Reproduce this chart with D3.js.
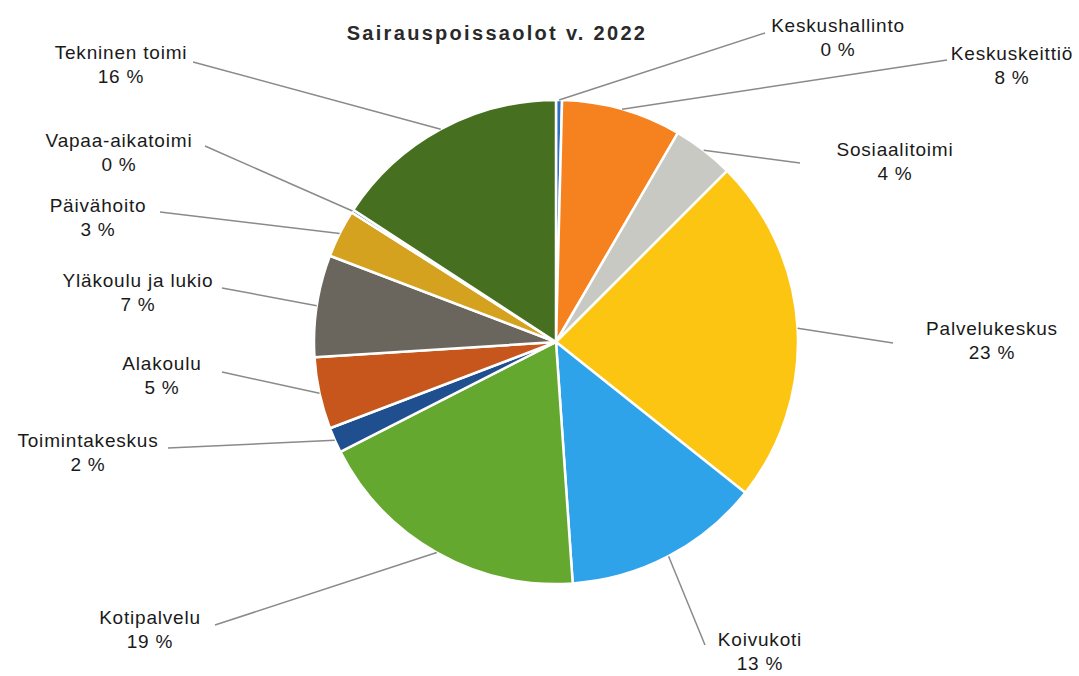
<!DOCTYPE html>
<html>
<head>
<meta charset="utf-8">
<script src="https://d3js.org/d3.v7.min.js"></script>
<style>
  body { margin: 0; background: #fff; }
  text { font-family: "Liberation Sans", Arial, sans-serif; fill: #1a1a1a; }
</style>
</head>
<body>
<svg id="chart" width="1079" height="676"></svg>
<script>
// data
var categories = ['Keskushallinto', 'Keskuskeittiö', 'Sosiaalitoimi', 'Palvelukeskus', 'Koivukoti',
  'Kotipalvelu', 'Toimintakeskus', 'Alakoulu', 'Yläkoulu ja lukio', 'Päivähoito', 'Vapaa-aikatoimi', 'Tekninen toimi'];
var values = [0.4, 8.0, 4.1, 23.2, 13.2, 18.6, 1.7, 4.8, 6.8, 3.2, 0.2, 15.8];
var colors = ['#2f6fc0', '#f5821f', '#c9c9c3', '#fcc512', '#2ea3ea',
  '#65a82f', '#1f4f8f', '#c6561b', '#6b665d', '#d4a21f', '#2a6099', '#46701f'];

// label layout (text centre / first baseline, and outer end of leader line)
var labelPos = [[838, 32], [1012, 60], [895, 156], [992, 335], [760, 646], [150, 624],
  [88, 447], [162, 370], [138, 287], [98, 212], [119, 147], [121, 59]];
var lineEnd = [[765, 33], [947, 60], [800, 163], [893, 343], [705, 645], [215, 625],
  [168, 448], [222, 372], [222, 288], [160, 212], [205, 146], [193, 62]];

var svg = d3.select('#chart');
var cx = 556, cy = 342, r = 242;

svg.append('text')
  .attr('x', 497).attr('y', 40)
  .attr('text-anchor', 'middle')
  .style('font-size', '20px')
  .style('font-weight', 'bold')
  .style('letter-spacing', '2.3px')
  .style('fill', '#2a2a2a')
  .text('Sairauspoissaolot v. 2022');

var total = d3.sum(values);
var pie = d3.pie().sort(null).value(function(d) { return d; });
var arc = d3.arc().innerRadius(0).outerRadius(r);
var arcs = pie(values);

var g = svg.append('g').attr('transform', 'translate(' + cx + ',' + cy + ')');

g.selectAll('path')
  .data(arcs)
  .enter().append('path')
  .attr('d', arc)
  .attr('fill', function(d, i) { return colors[i]; })
  .attr('stroke', '#fff')
  .attr('stroke-width', 2.5)
  .attr('stroke-linejoin', 'round');

// leader lines
svg.selectAll('line.leader')
  .data(arcs)
  .enter().append('line')
  .attr('class', 'leader')
  .attr('x1', function(d, i) { return lineEnd[i][0]; })
  .attr('y1', function(d, i) { return lineEnd[i][1]; })
  .attr('x2', function(d) { var a = (d.startAngle + d.endAngle) / 2; return cx + r * Math.sin(a); })
  .attr('y2', function(d) { var a = (d.startAngle + d.endAngle) / 2; return cy - r * Math.cos(a); })
  .attr('stroke', '#8a8a8a')
  .attr('stroke-width', 1.5);

// labels
var lab = svg.selectAll('text.lbl')
  .data(arcs)
  .enter().append('text')
  .attr('class', 'lbl')
  .attr('text-anchor', 'middle')
  .style('font-size', '19px')
  .style('letter-spacing', '0.8px');

lab.append('tspan')
  .attr('x', function(d, i) { return labelPos[i][0]; })
  .attr('y', function(d, i) { return labelPos[i][1]; })
  .text(function(d, i) { return categories[i]; });

lab.append('tspan')
  .attr('x', function(d, i) { return labelPos[i][0]; })
  .attr('y', function(d, i) { return labelPos[i][1] + 24; })
  .text(function(d) { return Math.round(d.value / total * 100) + ' %'; });
</script>
</body>
</html>
